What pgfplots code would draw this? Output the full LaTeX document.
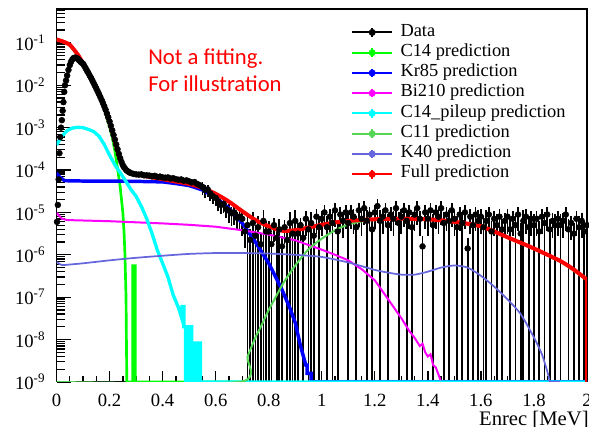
\documentclass[border=0pt]{standalone}
\usepackage{fontspec}
\setmainfont{Liberation Serif}
\newfontfamily\carlito{Carlito}
\usepackage{pgfplots}
\usepackage{pgfplotstable}
\pgfplotsset{compat=1.18}
\definecolor{cC14}{RGB}{0,255,0}
\definecolor{cKr}{RGB}{0,0,255}
\definecolor{cBi}{RGB}{255,0,255}
\definecolor{cPU}{RGB}{0,255,255}
\definecolor{cC11}{RGB}{85,215,85}
\definecolor{cK40}{RGB}{102,102,221}
\definecolor{cFull}{RGB}{255,0,0}

\pgfplotstableread{
E v
0.002 6e-6
0.005 1.5e-5
0.008 6e-5
0.011 2.5e-4
0.014 6e-4
0.017 1e-3
0.020 1.5e-3
0.023 2.5e-3
0.026 4e-3
0.029 7e-3
0.032 1e-2
0.036 1.3e-2
0.040 1.7e-2
0.045 2.3e-2
0.050 3.0e-2
0.055 3.6e-2
0.060 4.1e-2
0.065 4.4e-2
0.070 4.5e-2
0.075 4.4e-2
0.080 4.2e-2
0.085 3.9e-2
0.090 3.6e-2
0.095 3.4e-2
0.100 3.2e-2
0.105 2.85e-2
0.110 2.5e-2
0.115 2.2e-2
0.120 1.95e-2
0.125 1.7e-2
0.130 1.5e-2
0.135 1.3e-2
0.140 1.12e-2
0.145 9.7e-3
0.150 8.4e-3
0.155 7.2e-3
0.160 6.2e-3
0.165 5.3e-3
0.170 4.5e-3
0.175 3.8e-3
0.180 3.2e-3
0.185 2.65e-3
0.190 2.15e-3
0.195 1.75e-3
0.200 1.4e-3
0.205 1.1e-3
0.210 8.6e-4
0.215 6.7e-4
0.220 5.2e-4
0.225 4.0e-4
0.230 3.1e-4
0.235 2.4e-4
0.240 1.9e-4
0.245 1.55e-4
0.250 1.3e-4
0.255 1.15e-4
0.260 1.05e-4
0.265 9.7e-5
0.270 9.2e-5
0.275 8.8e-5
0.280 8.5e-5
0.290 8.1e-5
0.300 7.9e-5
0.310 7.8e-5
0.320 7.9e-5
0.330 7.5e-5
0.340 7.5e-5
0.350 7.4e-5
0.360 7.1e-5
0.370 7.3e-5
0.380 6.9e-5
0.390 7.0e-5
0.400 6.7e-5
0.410 6.6e-5
0.420 6.7e-5
0.430 6.3e-5
0.440 6.4e-5
0.450 6.1e-5
0.460 5.9e-5
0.470 6.0e-5
0.480 5.6e-5
0.490 5.7e-5
0.500 5.4e-5
0.510 5.1e-5
0.520 5.2e-5
0.530 4.7e-5
0.540 4.4e-5
}\dataA

\pgfplotstableread{
E v ep em
0.55 4.0e-5 0.3 0.35
0.56 3.4e-5 0.3 0.35
0.57 3.5e-5 0.3 0.35
0.58 2.8e-5 0.3 0.35
0.59 2.4e-5 0.3 0.35
0.60 2.2e-5 0.3 0.35
0.61 1.8e-5 0.3 0.4
0.62 1.5e-5 0.3 0.4
0.63 1.6e-5 0.3 0.4
0.64 1.2e-5 0.3 0.4
0.65 1.1e-5 0.4 0.5
0.66 9.5e-6 0.4 0.5
0.67 1.0e-5 0.4 0.5
0.68 7.5e-6 0.4 0.5
0.69 8.0e-6 0.4 0.5
0.70 7.08e-6 0.5 0.6
0.71 3.55e-6 0.5 0.6
0.72 5.01e-6 0.8 0.9999
0.73 2.24e-6 0.8 0.9999
0.74 5.62e-6 0.8 0.9999
0.75 2.82e-6 0.8 0.9999
0.76 4.47e-6 0.8 0.9999
0.77 1.78e-6 0.8 0.9999
0.78 6.31e-6 0.8 0.9999
0.79 3.55e-6 0.8 0.9999
0.80 3.55e-6 0.8 0.9999
0.81 1.78e-6 0.8 0.9999
0.82 5.01e-6 0.5 0.6
0.83 2.51e-6 0.8 0.9999
0.84 3.98e-6 0.8 0.9999
0.85 1.58e-6 0.8 0.9999
0.86 4.47e-6 0.5 0.6
0.87 2.24e-6 0.8 0.9999
0.88 5.62e-6 0.8 0.9999
0.89 3.16e-6 0.8 0.9999
0.90 6.31e-6 0.8 0.9999
0.91 3.16e-6 0.8 0.9999
0.92 5.01e-6 0.5 0.6
0.93 2.51e-6 0.8 0.9999
0.94 7.08e-6 0.5 0.6
0.95 3.98e-6 0.8 0.9999
0.96 5.62e-6 0.8 0.9999
0.97 2.82e-6 0.8 0.9999
0.98 7.94e-6 0.5 0.6
0.99 4.47e-6 0.8 0.9999
1.00 7.08e-6 0.5 0.6
1.01 1.00e-5 0.5 0.6
1.02 4.47e-6 0.8 0.9999
1.03 7.94e-6 0.5 0.6
1.04 5.62e-6 0.8 0.9999
1.05 1.12e-5 0.5 0.6
1.06 3.55e-6 0.8 0.9999
1.07 8.91e-6 0.5 0.6
1.08 6.31e-6 0.5 0.6
1.09 1.00e-5 0.5 0.6
1.10 5.62e-6 0.8 0.9999
1.11 1.00e-5 0.5 0.6
1.12 7.94e-6 0.5 0.6
1.13 4.47e-6 0.8 0.9999
1.14 1.12e-5 0.5 0.6
1.15 7.08e-6 0.5 0.6
1.16 1.26e-5 0.5 0.6
1.17 6.31e-6 0.8 0.9999
1.18 8.91e-6 0.5 0.6
1.19 3.98e-6 0.8 0.9999
1.20 1.00e-5 0.5 0.6
1.21 1.41e-5 0.5 0.6
1.22 6.31e-6 0.8 0.9999
1.23 7.94e-6 0.5 0.6
1.24 1.12e-5 0.5 0.6
1.25 5.01e-6 0.8 0.9999
1.26 8.91e-6 0.5 0.6
1.27 7.08e-6 0.5 0.6
1.28 1.26e-5 0.5 0.6
1.29 5.62e-6 0.8 0.9999
1.30 7.94e-6 0.5 0.6
1.31 1.12e-5 0.5 0.6
1.32 6.31e-6 0.8 0.9999
1.33 1.00e-5 0.5 0.6
1.34 4.47e-6 0.8 0.9999
1.35 8.91e-6 0.5 0.6
1.36 1.26e-5 0.5 0.6
1.37 7.08e-6 0.5 0.6
1.38 1.58e-6 0.8 0.9999
1.39 1.00e-5 0.5 0.6
1.40 7.08e-6 0.5 0.6
1.41 1.12e-5 0.5 0.6
1.42 5.01e-6 0.8 0.9999
1.43 1.00e-5 0.5 0.6
1.44 7.94e-6 0.5 0.6
1.45 1.26e-5 0.5 0.6
1.46 5.62e-6 0.8 0.9999
1.47 8.91e-6 0.5 0.6
1.48 6.31e-6 0.8 0.9999
1.49 1.12e-5 0.5 0.6
1.50 7.08e-6 0.5 0.6
1.51 4.47e-6 0.8 0.9999
1.52 8.91e-6 0.5 0.6
1.53 5.62e-6 0.8 0.9999
1.54 1.00e-5 0.5 0.6
1.55 1.41e-6 0.8 0.9999
1.56 7.94e-6 0.5 0.6
1.57 5.01e-6 0.8 0.9999
1.58 8.91e-6 0.5 0.6
1.59 6.31e-6 0.8 0.9999
1.60 7.94e-6 0.5 0.6
1.61 4.47e-6 0.8 0.9999
1.62 6.31e-6 0.8 0.9999
1.63 8.91e-6 0.5 0.6
1.64 3.55e-6 0.8 0.9999
1.65 7.08e-6 0.5 0.6
1.66 5.01e-6 0.8 0.9999
1.67 7.94e-6 0.5 0.6
1.68 3.98e-6 0.8 0.9999
1.69 6.31e-6 0.5 0.6
1.70 7.94e-6 0.5 0.6
1.71 3.98e-6 0.8 0.9999
1.72 7.08e-6 0.5 0.6
1.73 5.01e-6 0.8 0.9999
1.74 8.91e-6 0.5 0.6
1.75 3.16e-6 0.8 0.9999
1.76 6.31e-6 0.8 0.9999
1.77 7.94e-6 0.5 0.6
1.78 4.47e-6 0.8 0.9999
1.79 7.08e-6 0.5 0.6
1.80 5.01e-6 0.8 0.9999
1.81 7.08e-6 0.5 0.6
1.82 3.55e-6 0.8 0.9999
1.83 7.94e-6 0.5 0.6
1.84 5.62e-6 0.8 0.9999
1.85 8.91e-6 0.5 0.6
1.86 3.98e-6 0.8 0.9999
1.87 6.31e-6 0.5 0.6
1.88 5.01e-6 0.8 0.9999
1.89 7.08e-6 0.5 0.6
1.90 5.01e-6 0.8 0.9999
1.91 6.31e-6 0.5 0.6
1.92 8.91e-6 0.5 0.6
1.93 3.98e-6 0.8 0.9999
1.94 5.62e-6 0.5 0.6
1.95 3.16e-6 0.8 0.9999
1.96 7.08e-6 0.5 0.6
1.97 4.47e-6 0.8 0.9999
1.98 6.31e-6 0.5 0.6
1.99 3.55e-6 0.8 0.9999
2.00 5.01e-6 0.5 0.6
}\dataB

\begin{document}
\begin{tikzpicture}
\begin{axis}[
  name=ax,
  scale only axis,
  width=397.9pt, height=279.75pt,
  xmin=0, xmax=2,
  ymode=log, ymin=1e-9, ymax=0.63,
  tick pos=left,
  tick align=inside,
  major tick length=11pt,
  minor tick length=6pt,
  x tick style={/pgfplots/major tick length=8pt,/pgfplots/minor tick length=4.5pt},
  every tick/.style={black, line width=1pt},
  axis line style={line width=0.8pt},
  xtick={0,0.2,0.4,0.6,0.8,1,1.2,1.4,1.6,1.8,2},
  xticklabels={0,0.2,0.4,0.6,0.8,1,1.2,1.4,1.6,1.8,2},
  minor x tick num=3,
  ytick={1e-9,1e-8,1e-7,1e-6,1e-5,1e-4,1e-3,1e-2,1e-1},
  yticklabels={10\textsuperscript{-9},10\textsuperscript{-8},10\textsuperscript{-7},10\textsuperscript{-6},10\textsuperscript{-5},10\textsuperscript{-4},10\textsuperscript{-3},10\textsuperscript{-2},10\textsuperscript{-1}},
  minor ytick={2e-9,3e-9,4e-9,5e-9,6e-9,7e-9,8e-9,9e-9,
    2e-8,3e-8,4e-8,5e-8,6e-8,7e-8,8e-8,9e-8,
    2e-7,3e-7,4e-7,5e-7,6e-7,7e-7,8e-7,9e-7,
    2e-6,3e-6,4e-6,5e-6,6e-6,7e-6,8e-6,9e-6,
    2e-5,3e-5,4e-5,5e-5,6e-5,7e-5,8e-5,9e-5,
    2e-4,3e-4,4e-4,5e-4,6e-4,7e-4,8e-4,9e-4,
    2e-3,3e-3,4e-3,5e-3,6e-3,7e-3,8e-3,9e-3,
    2e-2,3e-2,4e-2,5e-2,6e-2,7e-2,8e-2,9e-2,
    2e-1,3e-1,4e-1,5e-1,6e-1},
  tick label style={font=\fontsize{14}{16}\selectfont},
  xticklabel style={anchor=base, inner sep=0pt, yshift=-18.5pt},
  yticklabel style={anchor=east, inner sep=0pt, xshift=-8.25pt},
  xlabel={Enrec [MeV]},
  xlabel style={at={(rel axis cs:1,0)}, anchor=base east, inner sep=0pt, yshift=-32.8pt, xshift=1.5pt, font=\fontsize{15.5}{17}\selectfont},
  legend image code/.code={
    \draw[#1, line width=1.5pt] (0pt,0pt) -- (30pt,0pt);
    \draw[#1, line width=1.2pt] (15pt,-3.2pt) -- (15pt,3.2pt);
    \fill[#1] (15pt,0pt) circle (2.4pt);
  },
  legend cell align=left,
  legend style={at={(rel axis cs:0.555,0.9651)}, anchor=north west, draw=none, fill=none,
    inner sep=0pt, row sep=0pt,
    font=\fontsize{13.8}{15}\selectfont,
    nodes={inner sep=0pt, text height=10.3pt, text depth=4.9pt},
    /tikz/every odd column/.append style={column sep=5.5pt}},
]
\addlegendimage{black}
\addlegendimage{cC14}
\addlegendimage{cKr}
\addlegendimage{cBi}
\addlegendimage{cPU}
\addlegendimage{cC11}
\addlegendimage{cK40}
\addlegendimage{cFull}
\legend{Data, C14 prediction, Kr85 prediction, Bi210 prediction, C14\_pileup prediction, C11 prediction, K40 prediction, Full prediction}

% data
\addplot[forget plot, black, only marks, mark=*, mark size=2.2pt] table[x=E, y=v] {\dataA};
\addplot[forget plot, black, only marks, mark=*, mark size=2.2pt,
  error bars/.cd, y dir=both, y explicit relative,
  error bar style={line width=1.3pt}, error mark=none]
  table[x=E, y=v, y error plus=ep, y error minus=em] {\dataB};

% C14
\addplot[forget plot, cC14, line width=2pt] coordinates {
(0,0.12)(0.02,0.110)(0.05,0.089)(0.08,0.052)(0.10,0.032)(0.12,0.019)(0.14,0.0104)(0.16,0.0058)(0.18,0.0027)(0.20,0.00105)(0.21,6.0e-4)(0.22,2.8e-4)(0.23,1.1e-4)(0.24,4e-5)(0.25,1e-5)(0.255,3e-6)(0.258,1e-6)(0.262,1e-7)(0.265,1e-9)(0.287,1e-9)(0.287,5.5e-7)(0.297,5.5e-7)(0.297,1e-9)(0.70,1e-9)};

% Kr85
\addplot[forget plot, cKr, line width=2.6pt] coordinates {
(0,8.5e-5)(0.01,7e-5)(0.03,5.6e-5)(0.1,5.5e-5)(0.2,5.5e-5)(0.3,5.4e-5)(0.4,5.25e-5)(0.45,4.8e-5)(0.5,4.3e-5)(0.55,3.4e-5)(0.6,2.24e-5)(0.65,1.26e-5)(0.7,5.6e-6)(0.75,2.0e-6)(0.8,6.3e-7)(0.85,1.5e-7)(0.88,5.5e-8)(0.9,2.5e-8)(0.92,7e-9)(0.94,2.5e-9)(0.945,2.5e-9)(0.945,1.6e-9)(0.96,1.6e-9)(0.96,1e-9)(2,1e-9)};

% Bi210
\addplot[forget plot, cBi, line width=1.5pt] coordinates {
(0,9.8e-6)(0.02,7.1e-6)(0.04,6.6e-6)(0.2,6.2e-6)(0.4,5.5e-6)(0.5,5.1e-6)(0.6,4.6e-6)(0.7,3.8e-6)(0.8,3.0e-6)(0.9,2.2e-6)(1.0,1.32e-6)(1.05,1.0e-6)(1.1,7.4e-7)(1.15,4.6e-7)(1.2,2.5e-7)(1.25,9e-8)(1.3,3.2e-8)(1.33,1.6e-8)(1.35,1.1e-8)(1.37,7e-9)(1.38,8e-9)(1.39,5e-9)(1.40,4e-9)(1.41,4.5e-9)(1.42,2.5e-9)(1.43,2.2e-9)(1.44,1.5e-9)(1.45,1e-9)};

% C14 pileup
\addplot[forget plot, cPU, line width=2.5pt] coordinates {
(0,3.9e-4)(0.02,6.3e-4)(0.04,8.5e-4)(0.06,9.8e-4)(0.08,1.02e-3)(0.10,1.0e-3)(0.12,9.1e-4)(0.14,8.1e-4)(0.16,6.3e-4)(0.18,4.0e-4)(0.20,2.24e-4)(0.22,1.32e-4)(0.24,8.7e-5)(0.26,5.6e-5)(0.28,3.5e-5)(0.30,2.4e-5)(0.32,1.38e-5)(0.34,7.1e-6)(0.36,3.2e-6)(0.38,1.29e-6)(0.40,6.3e-7)(0.42,3.0e-7)(0.44,1.12e-7)(0.46,5.6e-8)(0.47,3.5e-8)(0.473,6e-8)(0.48,6e-8)(0.48,2e-8)(0.51,2e-8)(0.51,8.3e-9)(0.543,8.3e-9)(0.543,1e-9)(2,1e-9)};
\addplot[forget plot, cPU, fill=cPU, line width=0.5pt] coordinates {
(0.48,1e-9)(0.48,2e-8)(0.51,2e-8)(0.51,8.3e-9)(0.543,8.3e-9)(0.543,1e-9)};

% C11
\addplot[forget plot, cC11, line width=1.5pt, smooth, tension=0.4] coordinates {
(0,1e-9)(0.69,1e-9)(0.72,3.9e-9)(0.75,1.12e-8)(0.77,2e-8)(0.8,5e-8)(0.82,8.5e-8)(0.85,1.9e-7)(0.87,3e-7)(0.9,5.6e-7)(0.95,1.35e-6)(1.0,2.4e-6)(1.05,3.8e-6)(1.1,5.2e-6)(1.15,6.1e-6)(1.2,6.6e-6)(1.3,6.9e-6)(1.4,6.8e-6)(1.5,5.9e-6)(1.6,4.6e-6)(1.7,2.5e-6)(1.8,1.35e-6)(1.9,6.8e-7)(2.0,2.5e-7)};

% K40
\addplot[forget plot, cK40, line width=1.3pt, smooth, tension=0.4] coordinates {
(0,6.8e-7)(0.02,5.75e-7)(0.05,5.9e-7)(0.1,6.3e-7)(0.2,7.4e-7)(0.3,8.5e-7)(0.4,9.5e-7)(0.5,1.05e-6)(0.6,1.1e-6)(0.7,1.1e-6)(0.8,1.07e-6)(0.9,1.0e-6)(1.0,8.9e-7)(1.1,6.6e-7)(1.2,4.4e-7)(1.25,3.8e-7)(1.3,3.4e-7)(1.35,3.4e-7)(1.4,4.0e-7)(1.45,5.0e-7)(1.5,5.6e-7)(1.55,5.0e-7)(1.6,3.2e-7)(1.65,1.78e-7)(1.7,8.9e-8)(1.75,4e-8)(1.8,1.12e-8)(1.83,4.5e-9)(1.85,1.8e-9)(1.86,1e-9)};
\addplot[forget plot, cK40, line width=1.3pt] coordinates {(1.86,1e-9)(1.9,1e-9)};

% Full
\addplot[forget plot, cFull, line width=3pt, smooth, tension=0.4] coordinates {
(0,0.12)(0.02,0.110)(0.05,0.090)(0.08,0.053)(0.10,0.033)(0.12,0.020)(0.14,0.011)(0.16,0.0064)(0.18,0.0031)(0.20,0.0013)(0.21,8e-4)(0.22,4.6e-4)(0.23,2.8e-4)(0.24,1.75e-4)(0.25,1.3e-4)(0.26,1.08e-4)(0.28,8.8e-5)(0.30,7.9e-5)(0.35,6.9e-5)(0.40,6.1e-5)(0.45,5.35e-5)(0.50,4.7e-5)(0.55,3.8e-5)(0.60,2.75e-5)(0.65,1.8e-5)(0.70,1.07e-5)(0.75,6.6e-6)(0.80,4.7e-6)(0.85,3.7e-6)(0.90,3.8e-6)(0.95,4.4e-6)(1.00,5.1e-6)(1.05,5.8e-6)(1.10,6.3e-6)(1.20,6.9e-6)(1.30,7.1e-6)(1.40,6.9e-6)(1.50,6.0e-6)(1.60,4.7e-6)(1.70,2.6e-6)(1.80,1.41e-6)(1.90,7.1e-7)(1.95,4.5e-7)(2.00,2.6e-7)};
\addplot[forget plot, cFull, line width=3pt] coordinates {(2.00,2.6e-7)(2.00,1e-9)};

\node[anchor=base west, inner sep=0pt, text=red, font=\carlito\fontsize{17}{20}\selectfont] at (rel axis cs:0.1725,0.8499) {Not a fitting.};
\node[anchor=base west, inner sep=0pt, text=red, font=\carlito\fontsize{17}{20}\selectfont] at (rel axis cs:0.1725,0.7775) {For illustration};
\end{axis}
\pgfresetboundingbox
\path[use as bounding box] ([xshift=-42.4pt,yshift=-33.75pt]ax.south west) rectangle ([xshift=1.5pt,yshift=6.75pt]ax.north east);
\end{tikzpicture}
\end{document}
